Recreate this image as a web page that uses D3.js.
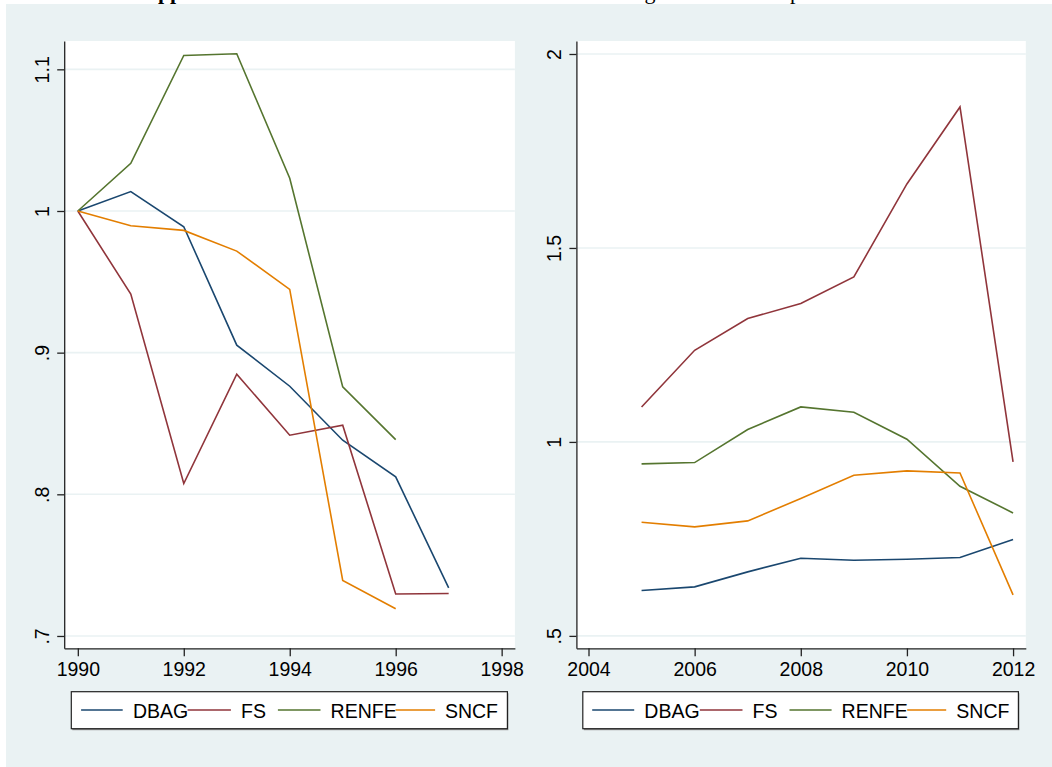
<!DOCTYPE html>
<html>
<head>
<meta charset="utf-8">
<script src="https://cdn.jsdelivr.net/npm/d3@7"></script>
<style>
  html, body { margin: 0; padding: 0; background: #ffffff; }
  svg { display: block; }
  text { font-family: "Liberation Sans", Arial, Helvetica, sans-serif; }
</style>
</head>
<body>
<svg id="chart" width="1052" height="767"></svg>
<script>
// ---------------- data ----------------
const seriesNames = ["DBAG", "FS", "RENFE", "SNCF"];
const seriesColors = ["#1A476F", "#90353B", "#55752F", "#E37E00"];

const yearsA = [1990, 1991, 1992, 1993, 1994, 1995, 1996, 1997];
const dbagA  = [1.0, 1.0137, 0.9889, 0.9053, 0.8763, 0.8382, 0.8123, 0.734];
const fsA    = [1.0, 0.9413, 0.8076, 0.8848, 0.8417, 0.8488, 0.7296, 0.7300];
const renfeA = [1.0, 1.0337, 1.1098, 1.1110, 1.0231, 0.8758, 0.8386, null];
const sncfA  = [1.0, 0.9896, 0.9863, 0.9717, 0.9446, 0.7392, 0.7192, null];

const yearsB = [2005, 2006, 2007, 2008, 2009, 2010, 2011, 2012];
const dbagB  = [0.617, 0.6263, 0.665, 0.7003, 0.6951, 0.6977, 0.702, 0.7484];
const fsB    = [1.0902, 1.2363, 1.318, 1.3567, 1.4253, 1.665, 1.8634, 0.9485];
const renfeB = [0.9433, 0.9468, 1.032, 1.0902, 1.0765, 1.007, 0.8858, 0.817];
const sncfB  = [0.793, 0.781, 0.7964, 0.8541, 0.9142, 0.9253, 0.9201, 0.6057];

const xTicksA = [1990, 1992, 1994, 1996, 1998];
const yTicksA = [0.7, 0.8, 0.9, 1.0, 1.1];
const yLabelsA = [".7", ".8", ".9", "1", "1.1"];
const xTicksB = [2004, 2006, 2008, 2010, 2012];
const yTicksB = [0.5, 1.0, 1.5, 2.0];
const yLabelsB = [".5", "1", "1.5", "2"];

// ---------------- drawing ----------------
const svg = d3.select("#chart");
const BG = "#EAF2F3";

// clipped title remnants at very top
const clip = svg.append("defs").append("clipPath").attr("id", "topclip");
clip.append("rect").attr("x", 0).attr("y", 0).attr("width", 1052).attr("height", 4);
const tg = svg.append("g").attr("clip-path", "url(#topclip)")
  .style("font-family", "'Liberation Serif', 'Times New Roman', serif").style("font-size", "22px");
tg.append("text").attr("x", 142).attr("y", -1).style("font-weight", "bold")
  .style("font-family", "'Liberation Serif', serif").text("Appendix");
tg.append("text").attr("x", 603).attr("y", -1)
  .style("font-family", "'Liberation Serif', serif").text("change");
tg.append("text").attr("x", 790).attr("y", -1)
  .style("font-family", "'Liberation Serif', serif").text("per");

// graph region background
svg.append("rect").attr("x", 6).attr("y", 4).attr("width", 1046).attr("height", 763).attr("fill", BG);

const panels = [
  {
    years: yearsA, series: [dbagA, fsA, renfeA, sncfA],
    xDomain: [1989.743, 1998.25], xRange: [64.2, 514.9],
    yDomain: [0.6913, 1.12], yRange: [648.3, 41],
    xTicks: xTicksA, yTicks: yTicksA, yLabels: yLabelsA,
    legend: { x0: 71.3, x1: 507.4,
      keys: [[81.1, 122.7, 132.9], [187.6, 230.9, 241.0], [277.9, 320.5, 330.6], [395.5, 435.1, 444.9]] }
  },
  {
    years: yearsB, series: [dbagB, fsB, renfeB, sncfB],
    xDomain: [2003.772, 2012.24], xRange: [576.4, 1025.8],
    yDomain: [0.468, 2.0335], yRange: [648.3, 41],
    xTicks: xTicksB, yTicks: yTicksB, yLabels: yLabelsB,
    legend: { x0: 582.8, x1: 1018.4,
      keys: [[592.2, 634.2, 644.3], [699.8, 742.5, 752.6], [789.5, 831.6, 841.6], [907.2, 946.2, 956.3]] }
  }
];

const FONT = "19.5px";

panels.forEach(p => {
  const x = d3.scaleLinear().domain(p.xDomain).range(p.xRange);
  const y = d3.scaleLinear().domain(p.yDomain).range(p.yRange);
  const g = svg.append("g");

  // plot region
  g.append("rect")
    .attr("x", p.xRange[0]).attr("y", p.yRange[1])
    .attr("width", p.xRange[1] - p.xRange[0]).attr("height", p.yRange[0] - p.yRange[1])
    .attr("fill", "#ffffff");

  // gridlines
  g.selectAll("line.grid").data(p.yTicks).enter().append("line")
    .attr("class", "grid")
    .attr("x1", p.xRange[0]).attr("x2", p.xRange[1])
    .attr("y1", d => y(d)).attr("y2", d => y(d))
    .attr("stroke", BG).attr("stroke-width", 1.6);

  // lines
  p.series.forEach((vals, i) => {
    const pts = p.years.map((yr, j) => [yr, vals[j]]);
    const line = d3.line().defined(d => d[1] != null).x(d => x(d[0])).y(d => y(d[1]));
    g.append("path").datum(pts)
      .attr("d", line)
      .attr("fill", "none")
      .attr("stroke", seriesColors[i])
      .attr("stroke-width", 1.6)
      .attr("stroke-linejoin", "miter");
  });

  // y axis
  const yAxis = d3.axisLeft(y).tickValues(p.yTicks).tickSize(7).tickSizeOuter(0)
    .tickFormat((d, i) => p.yLabels[i]);
  const ya = g.append("g").attr("transform", `translate(${p.xRange[0]},0)`).call(yAxis);
  ya.select(".domain").attr("stroke", "#222").attr("stroke-width", 1.3);
  ya.selectAll(".tick line").attr("stroke", "#222").attr("stroke-width", 1.3);
  ya.selectAll(".tick text")
    .attr("transform", "rotate(-90)")
    .attr("x", 0).attr("y", -15.5).attr("dy", 0)
    .attr("text-anchor", "middle")
    .attr("fill", "#000")
    .style("font-size", FONT)
    .style("font-family", "'Liberation Sans', Arial, sans-serif");

  // x axis
  const xAxis = d3.axisBottom(x).tickValues(p.xTicks).tickSize(8).tickSizeOuter(0)
    .tickFormat(d3.format("d"));
  const xa = g.append("g").attr("transform", `translate(0,${p.yRange[0]})`).call(xAxis);
  xa.select(".domain").attr("stroke", "#222").attr("stroke-width", 1.3);
  xa.selectAll(".tick line").attr("stroke", "#222").attr("stroke-width", 1.3);
  xa.selectAll(".tick text")
    .attr("y", 27.7).attr("dy", 0)
    .attr("fill", "#000")
    .style("font-size", FONT)
    .style("font-family", "'Liberation Sans', Arial, sans-serif");

  // legend
  const L = p.legend;
  const ly0 = 691.7, ly1 = 728.7;
  g.append("rect").attr("x", L.x0 + 1).attr("y", ly0 + 1.5)
    .attr("width", L.x1 - L.x0).attr("height", ly1 - ly0)
    .attr("fill", "#8a8a8a");
  g.append("rect").attr("x", L.x0).attr("y", ly0)
    .attr("width", L.x1 - L.x0).attr("height", ly1 - ly0)
    .attr("fill", "#ffffff").attr("stroke", "#222").attr("stroke-width", 1.2);
  L.keys.forEach((k, i) => {
    g.append("line").attr("x1", k[0]).attr("x2", k[1]).attr("y1", 710).attr("y2", 710)
      .attr("stroke", seriesColors[i]).attr("stroke-width", 1.6);
  });
  L.keys.forEach((k, i) => {
    g.append("text").attr("x", k[2]).attr("y", 717.7)
      .attr("fill", "#000").style("font-size", FONT)
      .text(seriesNames[i]);
  });
});
</script>
</body>
</html>
